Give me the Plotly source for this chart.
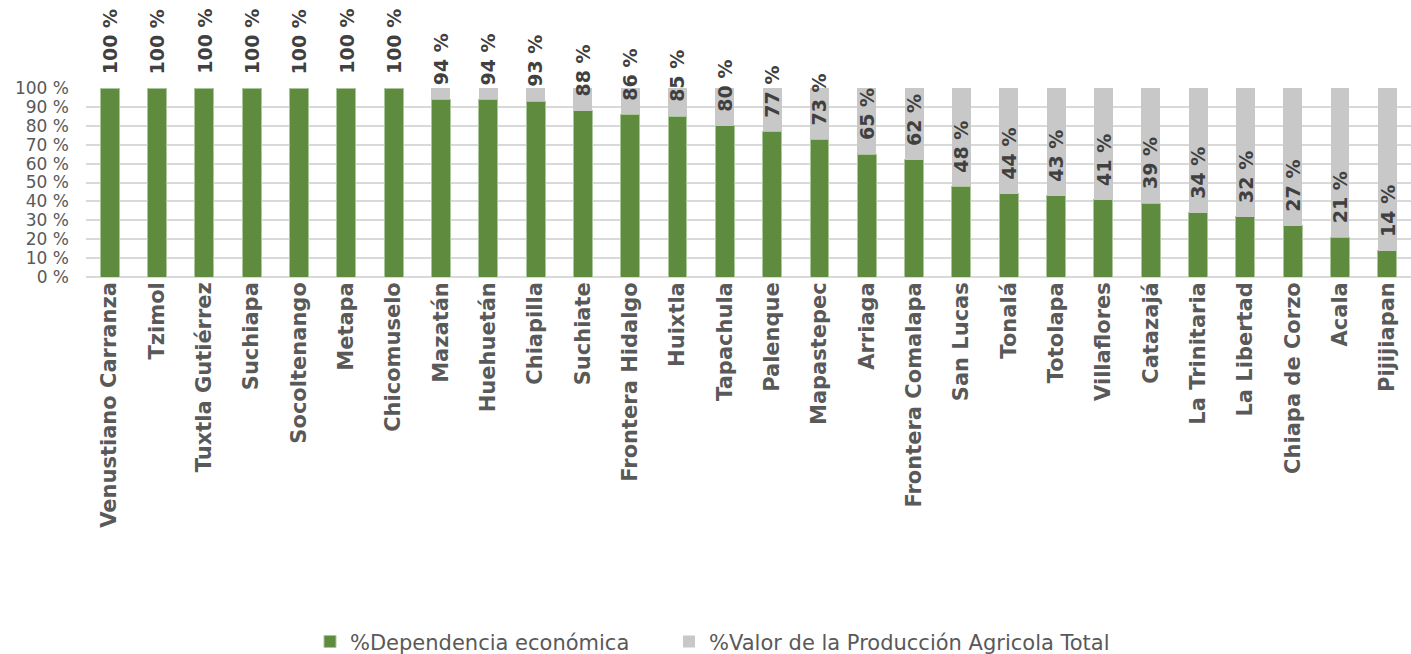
import plotly.graph_objects as go

categories = ["Venustiano Carranza", "Tzimol", "Tuxtla Gutiérrez", "Suchiapa", "Socoltenango",
              "Metapa", "Chicomuselo", "Mazatán", "Huehuetán", "Chiapilla", "Suchiate",
              "Frontera Hidalgo", "Huixtla", "Tapachula", "Palenque", "Mapastepec", "Arriaga",
              "Frontera Comalapa", "San Lucas", "Tonalá", "Totolapa", "Villaflores", "Catazajá",
              "La Trinitaria", "La Libertad", "Chiapa de Corzo", "Acala", "Pijijiapan"]
dependencia = [100, 100, 100, 100, 100, 100, 100, 94, 94, 93, 88, 86, 85, 80, 77, 73, 65, 62,
               48, 44, 43, 41, 39, 34, 32, 27, 21, 14]
valor_total = [100] * len(categories)
remainder = [t - d for t, d in zip(valor_total, dependencia)]
ytick_vals = [0, 10, 20, 30, 40, 50, 60, 70, 80, 90, 100]
ytick_text = [f"{v} %" for v in ytick_vals]

GREEN = "#5E8B3E"
GRAY = "#C8C8C8"
FONT = "DejaVu Sans"

fig = go.Figure()
fig.add_trace(go.Bar(x=categories, y=dependencia, name="%Dependencia económica",
                     marker=dict(color=GREEN, line=dict(color="#A9C79A", width=1)),
                     legend="legend"))
fig.add_trace(go.Bar(x=categories, y=remainder, name="%Valor de la Producción Agricola Total",
                     marker=dict(color=GRAY, line=dict(width=0)), legend="legend2"))

for c, v in zip(categories, dependencia):
    fig.add_annotation(x=c, y=v, text=f"<b>{v} %</b>", textangle=-90, showarrow=False,
                       xanchor="center", yanchor="bottom", yshift=12,
                       font=dict(family=FONT, size=19, color="#404040"))

legend_common = dict(orientation="h", xref="container", yref="container",
                     xanchor="left", yanchor="top", y=0.050, bgcolor="rgba(0,0,0,0)",
                     font=dict(family=FONT, size=21, color="#595959"), itemwidth=30)

fig.update_layout(
    barmode="stack", bargap=0.6,
    width=1411, height=654,
    margin=dict(l=86, r=0, t=88, b=377, autoexpand=False),
    plot_bgcolor="white", paper_bgcolor="white",
    font=dict(family=FONT, color="#595959"),
    xaxis=dict(tickangle=-90, tickfont=dict(family=FONT, size=21, color="#595959", weight="bold"),
               showgrid=False, ticks="", showline=False, automargin=False),
    yaxis=dict(range=[0, 100], tickvals=ytick_vals, ticktext=ytick_text,
               tickfont=dict(family=FONT, size=17, color="#595959"), ticklabelstandoff=16,
               showgrid=True, gridcolor="#D9D9D9", gridwidth=2, zeroline=True,
               zerolinecolor="#D9D9D9", zerolinewidth=2, ticks="", fixedrange=True,
               automargin=False),
    legend=dict(x=310 / 1411, **legend_common),
    legend2=dict(x=669 / 1411, **legend_common),
    showlegend=True,
)

fig.write_html("out.html")
